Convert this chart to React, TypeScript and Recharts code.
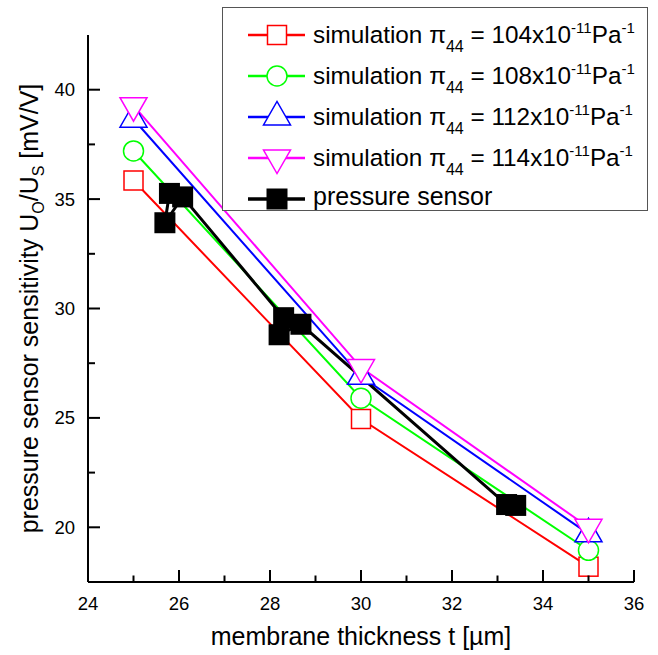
import React from 'react';
import { LineChart, Line, XAxis, YAxis, Legend } from 'recharts';

// ---- data ----
const simThickness = [25, 30, 35];
const sim104 = [35.85, 24.95, 18.2];
const sim108 = [37.2, 25.9, 18.95];
const sim112 = [38.65, 26.9, 19.7];
const sim114 = [39.27, 27.3, 20.0];
const sensorThickness = [25.79, 25.69, 26.08, 28.3, 28.2, 28.68, 33.2, 33.4];
const sensorSensitivity = [35.26, 33.92, 35.1, 29.58, 28.8, 29.28, 21.04, 21.0];
const xTicks = [24, 25, 26, 27, 28, 29, 30, 31, 32, 33, 34, 35, 36];
const yTicks = [20, 22.5, 25, 27.5, 30, 32.5, 35, 37.5, 40];
const piValues = ['104', '108', '112', '114'];

const FONT = 'Liberation Sans, Arial, sans-serif';

type Shape = 'square' | 'circle' | 'triUp' | 'triDown' | 'filled';

const toRows = (xs: number[], ys: number[]) => xs.map((t, i) => ({ t, v: ys[i] }));

const series = [
  { key: 's104', data: toRows(simThickness, sim104), color: '#FF0000', shape: 'square' as Shape, width: 2 },
  { key: 's108', data: toRows(simThickness, sim108), color: '#00FF00', shape: 'circle' as Shape, width: 2 },
  { key: 's112', data: toRows(simThickness, sim112), color: '#0000FF', shape: 'triUp' as Shape, width: 2 },
  { key: 's114', data: toRows(simThickness, sim114), color: '#FF00FF', shape: 'triDown' as Shape, width: 2 },
  { key: 'sensor', data: toRows(sensorThickness, sensorSensitivity), color: '#000000', shape: 'filled' as Shape, width: 3 },
];

const Marker = ({ shape, cx, cy, color }: { shape: Shape; cx: number; cy: number; color: string }) => {
  const sw = 1.5;
  switch (shape) {
    case 'square':
      return <rect x={cx - 9.5} y={cy - 9.5} width={19} height={19} fill="#fff" stroke={color} strokeWidth={sw} />;
    case 'circle':
      return <circle cx={cx} cy={cy} r={10} fill="#fff" stroke={color} strokeWidth={sw} />;
    case 'triUp':
      return (
        <polygon
          points={`${cx - 13.5},${cy + 8} ${cx + 13.5},${cy + 8} ${cx},${cy - 15.5}`}
          fill="#fff"
          stroke={color}
          strokeWidth={sw}
        />
      );
    case 'triDown':
      return (
        <polygon
          points={`${cx - 13.5},${cy - 8} ${cx + 13.5},${cy - 8} ${cx},${cy + 15.5}`}
          fill="#fff"
          stroke={color}
          strokeWidth={sw}
        />
      );
    default:
      return <rect x={cx - 10.5} y={cy - 10.5} width={21} height={21} fill={color} stroke="none" />;
  }
};

const makeDot = (shape: Shape, color: string) => (props: any) => {
  const { cx, cy, index } = props;
  if (cx == null || cy == null) return <g key={`d${index}`} />;
  return (
    <g key={`d${index}`}>
      <Marker shape={shape} cx={cx} cy={cy} color={color} />
    </g>
  );
};

const BottomTick = (props: any) => {
  const { x, y, payload } = props;
  const major = payload.value % 2 === 0;
  return (
    <g>
      <line x1={x} y1={y} x2={x} y2={y - (major ? 12 : 6.5)} stroke="#000" strokeWidth={2} />
      {major && (
        <text x={x} y={y + 28} textAnchor="middle" fontSize={18.5} fontFamily={FONT} fill="#000">
          {payload.value}
        </text>
      )}
    </g>
  );
};

const TopTick = (props: any) => {
  const { x, y, payload } = props;
  const major = payload.value % 2 === 0;
  return <line x1={x} y1={y} x2={x} y2={y + (major ? 12 : 6.5)} stroke="#000" strokeWidth={2} />;
};

const LeftTick = (props: any) => {
  const { x, y, payload } = props;
  const major = payload.value % 5 === 0;
  return (
    <g>
      <line x1={x} y1={y} x2={x + (major ? 12 : 7)} y2={y} stroke="#000" strokeWidth={2} />
      {major && (
        <text x={x - 13} y={y + 6.5} textAnchor="end" fontSize={18.5} fontFamily={FONT} fill="#000">
          {payload.value}
        </text>
      )}
    </g>
  );
};

const RightTick = (props: any) => {
  const { x, y, payload } = props;
  const major = payload.value % 5 === 0;
  return <line x1={x} y1={y} x2={x - (major ? 12 : 7)} y2={y} stroke="#000" strokeWidth={2} />;
};

const XTitle = (props: any) => {
  const vb = props.viewBox || {};
  return (
    <text x={vb.x + vb.width / 2} y={vb.y + 63} textAnchor="middle" fontSize={25} fontFamily={FONT} fill="#000">
      membrane thickness t [µm]
    </text>
  );
};

const YTitle = (props: any) => {
  const vb = props.viewBox || {};
  const cx = vb.x + 38;
  const cy = vb.y + vb.height / 2;
  return (
    <text
      x={cx}
      y={cy}
      transform={`rotate(-90, ${cx}, ${cy})`}
      textAnchor="middle"
      fontSize={25}
      fontFamily={FONT}
      fill="#000"
    >
      pressure sensor sensitivity U
      <tspan fontSize={16} dy={6}>O</tspan>
      <tspan dy={-6}>/U</tspan>
      <tspan fontSize={16} dy={6}>S</tspan>
      <tspan dy={-6}> [mV/V]</tspan>
    </text>
  );
};

const LegendBox = () => (
  <svg width={426} height={204} style={{ display: 'block' }}>
    <rect x={0.5} y={0.5} width={425} height={203} fill="#fff" stroke="#555" strokeWidth={1} />
    {series.map((s, i) => {
      const y = 28 + i * 41;
      return (
        <g key={s.key}>
          <line x1={26} x2={83} y1={y} y2={y} stroke={s.color} strokeWidth={s.width + 0.5} />
          <Marker shape={s.shape} cx={55} cy={y} color={s.color} />
          {i < piValues.length ? (
            <text x={91} y={y + 8.3} fontSize={24.3} fontFamily={FONT} fill="#000">
              simulation π
              <tspan fontSize={16} dy={8.5}>44</tspan>
              <tspan dy={-8.5}>{` = ${piValues[i]}x10`}</tspan>
              <tspan fontSize={15} dy={-10}>-11</tspan>
              <tspan dy={10}>Pa</tspan>
              <tspan fontSize={15} dy={-10}>-1</tspan>
            </text>
          ) : (
            <text x={91} y={y + 6} fontSize={25} fontFamily={FONT} fill="#000">
              pressure sensor
            </text>
          )}
        </g>
      );
    })}
  </svg>
);

export default function App() {
  return (
    <div style={{ position: 'absolute', left: 0, top: 0, width: 658, height: 655, background: '#fff' }}>
      <LineChart width={658} height={655} margin={{ top: 35, right: 24, bottom: 0, left: 0 }}>
        <XAxis
          xAxisId="b"
          dataKey="t"
          type="number"
          orientation="bottom"
          domain={[24, 36]}
          ticks={xTicks}
          interval={0}
          height={73}
          tickSize={0}
          tickMargin={0}
          tickLine={false}
          tick={<BottomTick />}
          axisLine={{ stroke: '#000', strokeWidth: 2 }}
          label={XTitle}
        />
        <XAxis
          xAxisId="t"
          dataKey="t"
          type="number"
          orientation="top"
          domain={[24, 36]}
          ticks={xTicks}
          interval={0}
          height={0}
          tickSize={0}
          tickMargin={0}
          tickLine={false}
          tick={<TopTick />}
          axisLine={{ stroke: '#000', strokeWidth: 2 }}
        />
        <YAxis
          yAxisId="l"
          type="number"
          orientation="left"
          domain={[17.5, 42.5]}
          ticks={yTicks}
          interval={0}
          width={88}
          tickSize={0}
          tickMargin={0}
          tickLine={false}
          tick={<LeftTick />}
          axisLine={{ stroke: '#000', strokeWidth: 2 }}
          label={YTitle}
        />
        <YAxis
          yAxisId="r"
          type="number"
          orientation="right"
          domain={[17.5, 42.5]}
          ticks={yTicks}
          interval={0}
          width={0}
          tickSize={0}
          tickMargin={0}
          tickLine={false}
          tick={<RightTick />}
          axisLine={{ stroke: '#000', strokeWidth: 2 }}
        />
        {series.map((s) => (
          <Line
            key={s.key}
            xAxisId="b"
            yAxisId="l"
            data={s.data}
            dataKey="v"
            name={s.key}
            stroke={s.color}
            strokeWidth={s.width}
            dot={makeDot(s.shape, s.color)}
            activeDot={false}
            isAnimationActive={false}
            legendType="none"
          />
        ))}
        <Legend
          layout="horizontal"
          verticalAlign="middle"
          align="center"
          content={() => <LegendBox />}
          wrapperStyle={{ left: 222, top: 7, width: 426, height: 204 }}
        />
      </LineChart>
    </div>
  );
}
